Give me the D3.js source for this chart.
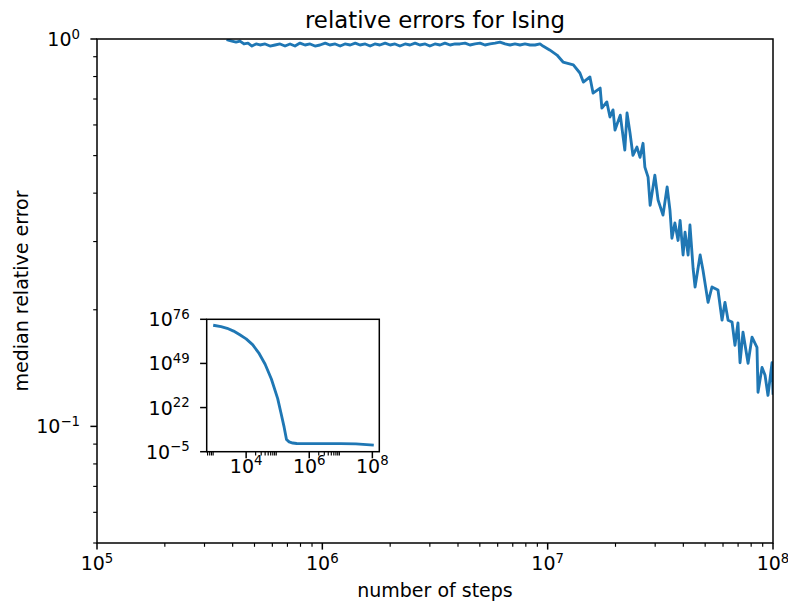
<!DOCTYPE html>
<html>
<head>
<meta charset="utf-8">
<script src="https://cdn.jsdelivr.net/npm/d3@7"></script>
<style>
  body { margin: 0; background: #fff; }
  text { font-family: "DejaVu Sans", sans-serif; fill: #000; }
</style>
</head>
<body>
<div id="chart"></div>
<script>
// main curve: median relative error vs number of steps
const mainSteps = [
  3.81e5, 3.97e5, 4.14e5, 4.31e5, 4.49e5, 4.68e5, 4.87e5, 5.08e5, 5.29e5, 5.57e5,
  5.86e5, 6.17e5, 6.49e5, 6.83e5, 7.19e5, 7.56e5, 7.96e5, 8.38e5, 8.82e5, 9.28e5,
  9.76e5, 1.03e6, 1.08e6, 1.14e6, 1.20e6, 1.26e6, 1.33e6, 1.40e6, 1.47e6, 1.55e6,
  1.63e6, 1.71e6, 1.80e6, 1.90e6, 2.00e6, 2.10e6, 2.21e6, 2.33e6, 2.45e6, 2.58e6,
  2.71e6, 2.86e6, 3.00e6, 3.16e6, 3.33e6, 3.50e6, 3.69e6, 3.88e6, 4.08e6, 4.30e6,
  4.52e6, 4.76e6, 5.01e6, 5.27e6, 5.55e6, 5.84e6, 6.14e6, 6.47e6, 6.81e6, 7.16e6,
  7.54e6, 7.93e6, 8.35e6, 8.79e6, 9.25e6, 9.53e6, 1.02e7, 1.10e7, 1.17e7, 1.30e7,
  1.39e7, 1.44e7, 1.54e7, 1.59e7, 1.71e7, 1.74e7, 1.83e7, 1.89e7, 1.95e7, 1.99e7,
  2.10e7, 2.20e7, 2.25e7, 2.32e7, 2.39e7, 2.49e7, 2.57e7, 2.65e7, 2.70e7, 2.79e7,
  2.85e7, 2.99e7, 3.09e7, 3.25e7, 3.39e7, 3.49e7, 3.56e7, 3.67e7, 3.79e7, 3.87e7,
  3.99e7, 4.07e7, 4.20e7, 4.28e7, 4.42e7, 4.51e7, 4.75e7, 4.89e7, 5.15e7, 5.36e7,
  5.70e7, 5.94e7, 6.12e7, 6.32e7, 6.58e7, 6.78e7, 6.99e7, 7.14e7, 7.36e7, 7.75e7,
  8.07e7, 8.49e7, 8.58e7, 8.94e7, 9.22e7, 9.50e7, 9.90e7, 1.0e8
];
const mainErrors = [
  0.994, 0.988, 0.982, 0.988, 0.971, 0.976, 0.959, 0.971, 0.965, 0.971,
  0.959, 0.965, 0.971, 0.959, 0.971, 0.959, 0.976, 0.965, 0.971, 0.959,
  0.965, 0.976, 0.965, 0.971, 0.959, 0.971, 0.965, 0.976, 0.965, 0.971,
  0.959, 0.971, 0.965, 0.976, 0.965, 0.971, 0.959, 0.971, 0.965, 0.976,
  0.965, 0.971, 0.959, 0.971, 0.965, 0.976, 0.965, 0.971, 0.971, 0.976,
  0.965, 0.971, 0.976, 0.965, 0.971, 0.976, 0.982, 0.971, 0.965, 0.971,
  0.965, 0.971, 0.965, 0.965, 0.971, 0.959, 0.937, 0.909, 0.872, 0.857,
  0.817, 0.774, 0.798, 0.725, 0.747, 0.663, 0.688, 0.629, 0.656, 0.582,
  0.636, 0.517, 0.644, 0.572, 0.501, 0.526, 0.495, 0.538, 0.467, 0.440,
  0.372, 0.445, 0.384, 0.351, 0.415, 0.361, 0.306, 0.335, 0.302, 0.340,
  0.277, 0.317, 0.277, 0.331, 0.256, 0.229, 0.277, 0.253, 0.209, 0.229,
  0.225, 0.188, 0.209, 0.188, 0.186, 0.162, 0.185, 0.146, 0.175, 0.1455,
  0.170, 0.160, 0.1225, 0.142, 0.1355, 0.1202, 0.146, 0.1217
];

// inset: full range of the same run
const insetSteps = [
  1e3, 1.6e3, 2.5e3, 4e3, 6.3e3, 1e4, 1.6e4, 2.5e4, 4e4, 6.3e4,
  1e5, 1.26e5, 1.6e5, 1.9e5, 2.3e5, 3e5, 4e5, 1e6, 1e7, 3e7, 1e8
];
const insetErrors = [
  1.6e72, 3.2e71, 3.2e70, 6.3e68, 3.2e66, 1e64, 3.2e60, 3.2e55, 3.2e48, 3.2e39,
  3.2e27, 1e19, 1e10, 3.2e2, 10, 2, 0.99, 0.96, 0.96, 0.6, 0.12
];

// tick values (exponents of ten)
const mainXTicks = [5, 6, 7, 8];
const mainYTicks = [-1, 0];
const insetXTicks = [4, 6, 8];
const insetYTicks = [-5, 22, 49, 76];

const width = 788, height = 602;
const blue = "#1f77b4";
const lw = 2.85;     // data line width
const spineW = 1.5;

const svg = d3.select("#chart").append("svg")
  .attr("width", width).attr("height", height);

const main = { left: 97, right: 773, top: 39, bottom: 543 };
const ins = { left: 206.7, right: 379.3, top: 319.3, bottom: 451.7 };

const x = d3.scaleLog().domain([1e5, 1e8]).range([main.left, main.right]);
const y = d3.scaleLog().domain([0.05, 1]).range([main.bottom, main.top]);
const xi = d3.scaleLog().domain([Math.pow(10, 2.75), Math.pow(10, 8.22)]).range([ins.left, ins.right]);
const yi = d3.scaleLog().domain([1e-5, 1e76]).range([ins.bottom, ins.top]);

const minus = (e) => (e < 0 ? "\u2212" + Math.abs(e) : String(e));

function powLabel(g, px, py, e, anchor) {
  const t = g.append("text")
    .attr("x", px).attr("y", py)
    .attr("text-anchor", anchor)
    .style("font-size", "19px");
  t.append("tspan").text("10");
  t.append("tspan").attr("dy", -7.5).style("font-size", "13.3px").text(minus(e));
}

function minorTicks(scale, decades) {
  const out = [];
  const [lo, hi] = scale.domain();
  decades.forEach((d) => {
    for (let k = 2; k <= 9; k++) {
      const v = k * Math.pow(10, d);
      if (v > lo && v < hi) out.push(v);
    }
  });
  return out;
}

// ---- main axes ----
svg.append("clipPath").attr("id", "clipMain")
  .append("rect")
  .attr("x", main.left).attr("y", main.top)
  .attr("width", main.right - main.left).attr("height", main.bottom - main.top);

const line = d3.line().x((d) => x(d[0])).y((d) => y(d[1]));
svg.append("path")
  .datum(mainSteps.map((s, i) => [s, mainErrors[i]]))
  .attr("clip-path", "url(#clipMain)")
  .attr("d", line)
  .attr("fill", "none")
  .attr("stroke", blue)
  .attr("stroke-width", lw)
  .attr("stroke-linejoin", "round")
  .attr("stroke-linecap", "square");

const gMain = svg.append("g");
// x ticks
mainXTicks.forEach((e) => {
  const px = x(Math.pow(10, e));
  gMain.append("line").attr("x1", px).attr("x2", px)
    .attr("y1", main.bottom).attr("y2", main.bottom + 6.6)
    .attr("stroke", "#000").attr("stroke-width", spineW);
  powLabel(gMain, px, main.bottom + 27, e, "middle");
});
minorTicks(x, [5, 6, 7]).forEach((v) => {
  gMain.append("line").attr("x1", x(v)).attr("x2", x(v))
    .attr("y1", main.bottom).attr("y2", main.bottom + 3.8)
    .attr("stroke", "#000").attr("stroke-width", 1.15);
});
// y ticks
mainYTicks.forEach((e) => {
  const py = y(Math.pow(10, e));
  gMain.append("line").attr("x1", main.left - 6.6).attr("x2", main.left)
    .attr("y1", py).attr("y2", py)
    .attr("stroke", "#000").attr("stroke-width", spineW);
  powLabel(gMain, main.left - 17, py + 7, e, "end");
});
minorTicks(y, [-2, -1]).concat([0.05]).forEach((v) => {
  gMain.append("line").attr("x1", main.left - 3.8).attr("x2", main.left)
    .attr("y1", y(v)).attr("y2", y(v))
    .attr("stroke", "#000").attr("stroke-width", 1.15);
});

svg.append("rect")
  .attr("x", main.left).attr("y", main.top)
  .attr("width", main.right - main.left).attr("height", main.bottom - main.top)
  .attr("fill", "none").attr("stroke", "#000").attr("stroke-width", spineW);

svg.append("text")
  .attr("x", (main.left + main.right) / 2).attr("y", 28)
  .attr("text-anchor", "middle").style("font-size", "22.8px")
  .text("relative errors for Ising");

svg.append("text")
  .attr("x", (main.left + main.right) / 2).attr("y", 597)
  .attr("text-anchor", "middle").style("font-size", "19px")
  .text("number of steps");

svg.append("text")
  .attr("transform", `translate(28,${(main.top + main.bottom) / 2}) rotate(-90)`)
  .attr("text-anchor", "middle").style("font-size", "19px")
  .text("median relative error");

// ---- inset axes ----
svg.append("rect")
  .attr("x", ins.left).attr("y", ins.top)
  .attr("width", ins.right - ins.left).attr("height", ins.bottom - ins.top)
  .attr("fill", "#fff");

const lineI = d3.line().x((d) => xi(d[0])).y((d) => yi(d[1]));
svg.append("path")
  .datum(insetSteps.map((s, i) => [s, insetErrors[i]]))
  .attr("d", lineI)
  .attr("fill", "none")
  .attr("stroke", blue)
  .attr("stroke-width", lw)
  .attr("stroke-linejoin", "round")
  .attr("stroke-linecap", "square");

const gIns = svg.append("g");
insetXTicks.forEach((e) => {
  const px = xi(Math.pow(10, e));
  gIns.append("line").attr("x1", px).attr("x2", px)
    .attr("y1", ins.bottom).attr("y2", ins.bottom + 6.6)
    .attr("stroke", "#000").attr("stroke-width", spineW);
  powLabel(gIns, px, ins.bottom + 21, e, "middle");
});
minorTicks(xi, [2, 4, 6]).forEach((v) => {
  gIns.append("line").attr("x1", xi(v)).attr("x2", xi(v))
    .attr("y1", ins.bottom).attr("y2", ins.bottom + 3.8)
    .attr("stroke", "#000").attr("stroke-width", 1.15);
});
insetYTicks.forEach((e) => {
  const py = yi(Math.pow(10, e));
  gIns.append("line").attr("x1", ins.left - 6.6).attr("x2", ins.left)
    .attr("y1", py).attr("y2", py)
    .attr("stroke", "#000").attr("stroke-width", spineW);
  powLabel(gIns, ins.left - 17, py + 7, e, "end");
});

svg.append("rect")
  .attr("x", ins.left).attr("y", ins.top)
  .attr("width", ins.right - ins.left).attr("height", ins.bottom - ins.top)
  .attr("fill", "none").attr("stroke", "#000").attr("stroke-width", spineW);
</script>
</body>
</html>
